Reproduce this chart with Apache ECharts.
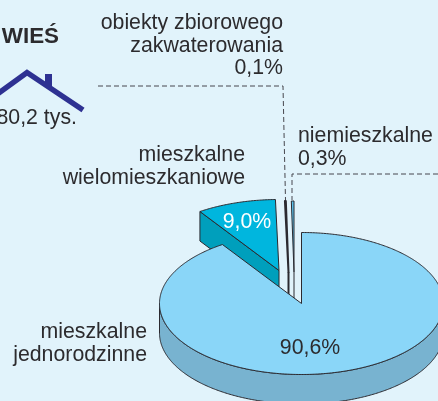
<!DOCTYPE html>
<html><head><meta charset="utf-8">
<style>html,body{margin:0;padding:0;background:#e1f3fb}#c{width:438px;height:401px}</style>
<script src="https://cdn.jsdelivr.net/npm/echarts@6/dist/echarts.min.js"></script>
</head><body><div id="c"></div>
<script>
const categories = ['mieszkalne jednorodzinne','mieszkalne wielomieszkaniowe','obiekty zbiorowego zakwaterowania','niemieszkalne'];
const shares = [90.6, 9.0, 0.1, 0.3];
const shareLabels = ['90,6%','9,0%','0,1%','0,3%'];
const title = 'WIEŚ';
const totalLabel = '80,2 tys.';

const INK = '#2b2a30', TXT = '#2c2b2e', FONT = '"Liberation Sans", Arial, sans-serif', FS = 21.3;
const geo = {cx:301.5, cy:303.5, rx:142, ry:71, depth:29.5};
const sliceStyle = [
  {top:'#8ad6f8', side:'#78b3d0', dx:0, dy:0, textX:310, textY:348, textFill:TXT, showText:true, lw:1},
  {top:'#00b6de', side:'#009fbc', dx:-22.5, dy:-33, textX:247, textY:222, textFill:'#ffffff', showText:true, lw:1},
  {top:'#2b2a40', side:'#2b2a40', dx:-13, dy:-31.5, lw:2},
  {top:'#5cc0ea', side:'#e1f3fb', dx:-7.5, dy:-31.5, lw:1}
];
const total = shares.reduce((a,b)=>a+b,0);
const pt = (a,s,dz=0)=>[geo.cx+s.dx+geo.rx*Math.sin(a), geo.cy+s.dy+dz-geo.ry*Math.cos(a)];
const arc = (a0,a1,s,dz=0)=>{const n=Math.max(2,Math.ceil(Math.abs(a1-a0)*90)),r=[];
  for(let i=0;i<=n;i++)r.push(pt(a0+(a1-a0)*i/n,s,dz));return r;};
let acc=0;
const rows = shares.map((v,i)=>{const r=[i,acc,acc+v];acc+=v;return r;});
const drawOrder = [3,2,1,0];

const renderItem=(p,api)=>{
  const i=api.value(0), s=sliceStyle[i];
  const a0=api.value(1)/total*2*Math.PI, a1=api.value(2)/total*2*Math.PI;
  const apex=[geo.cx+s.dx,geo.cy+s.dy];
  const kids=[];
  const st=(fill)=>({fill,stroke:INK,lineWidth:s.lw,lineJoin:'round'});
  const f0=Math.max(a0,Math.PI/2), f1=Math.min(a1,3*Math.PI/2);
  if(f1>f0){
    const up=arc(f0,f1,s), low=arc(f1,f0,s,geo.depth);
    kids.push({type:'polygon',shape:{points:up.concat(low)},style:st(s.side)});
  }
  if(i===1){
    const e=pt(a0,s);
    kids.push({type:'polygon',shape:{points:[e,apex,[apex[0],apex[1]+geo.depth],[e[0],e[1]+geo.depth]]},style:st(s.side)});
  }
  if(i>1){
    kids.push({type:'polyline',shape:{points:[apex,[apex[0],apex[1]+geo.depth]]},style:{stroke:INK,lineWidth:s.lw,fill:null}});
  }
  kids.push({type:'polygon',shape:{points:[apex].concat(arc(a0,a1,s))},style:st(s.top)});
  if(s.showText) kids.push({type:'text',style:{text:shareLabels[i],x:s.textX,y:s.textY,align:'center',verticalAlign:'middle',fill:s.textFill,font:FS+'px '+FONT}});
  return {type:'group',children:kids};
};

const txt=(text,x,y,align,extra)=>({type:'text',style:Object.assign({text,x,y,align,verticalAlign:'middle',fill:TXT,font:FS+'px '+FONT},extra||{}),z:20});
const line=(points)=>({type:'polyline',shape:{points},style:{stroke:'#47474e',lineWidth:1,lineDash:[5,3],fill:null},z:15});
const words=(s)=>s.split(' ');
const [lbl0a,lbl0b]=words(categories[0]), [lbl1a,lbl1b]=words(categories[1]);
const lbl2=words(categories[2]);

const chart=echarts.init(document.getElementById('c'),null,{renderer:'canvas'});
chart.setOption({
  backgroundColor:'#e1f3fb',
  animation:false,
  series:[{type:'custom',coordinateSystem:'none',silent:true,renderItem,
    data:drawOrder.map(i=>rows[i]),encode:{}}],
  graphic:[
    txt(title,59,37,'right',{font:'bold 22.4px '+FONT}),
    txt(lbl2[0]+' '+lbl2[1],283,23,'right'),
    txt(lbl2[2],283,46,'right'),
    txt(shareLabels[2],283,68,'right'),
    txt(categories[3],298,136,'left'),
    txt(shareLabels[3],298,159,'left'),
    txt(lbl1a,245,155,'right'),
    txt(lbl1b,245,178,'right'),
    txt(lbl0a,147,332,'right'),
    txt(lbl0b,147,355,'right'),
    txt(totalLabel,77,118,'right'),
    line([[98,86],[283,86],[285.5,200]]),
    line([[438,174],[292,174],[292,200]]),
    {type:'polyline',shape:{points:[[-8,98],[27,72.5],[83,110]]},style:{stroke:'#2e3192',lineWidth:5.5,fill:null,lineJoin:'miter'},z:12},
    {type:'rect',shape:{x:45,y:74,width:7,height:12},style:{fill:'#2e3192'},z:12}
  ]
});
</script></body></html>
